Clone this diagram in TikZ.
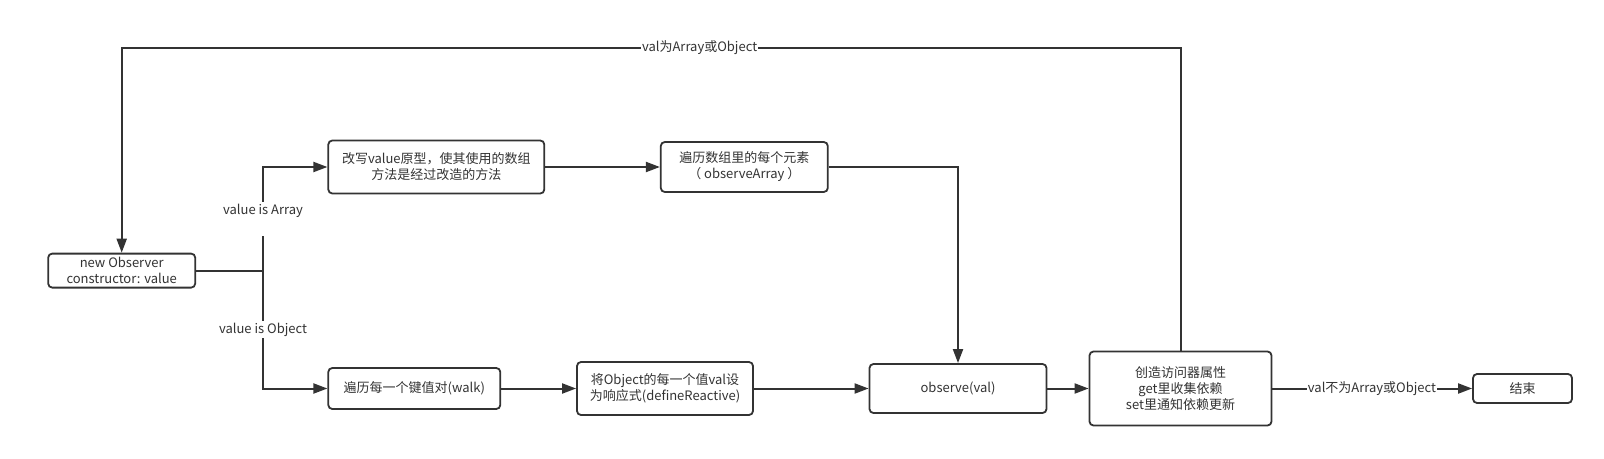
\documentclass[tikz,border=0pt]{standalone}
\usepackage{fontspec}
\setmainfont{Noto Sans CJK SC}
\usetikzlibrary{arrows.meta, positioning}
\definecolor{ink}{HTML}{333333}

\begin{document}
\begin{tikzpicture}[
    x=1pt, y=-1pt,
    every node/.style={font=\fontsize{13}{16}\selectfont, text=ink},
    box/.style={rectangle, rounded corners=4pt, draw=ink, line width=1.8pt,
                fill=white, align=center, inner sep=0pt},
    lbl/.style={fill=white, inner xsep=1pt, inner ysep=2pt},
    wire/.style={draw=ink, line width=2pt},
    flow/.style={wire, -{Triangle[length=14pt, width=10pt]}},
]
\useasboundingbox (0,0) rectangle (1604,458);

% ================================================ boxes
\node[box, minimum width=147pt, minimum height=34pt] (obs) at (121.7, 270.6)
    {new Observer\\constructor: value};
\node[box, minimum width=216pt, minimum height=53pt] (proto) at (436.3, 167)
    {改写value原型，使其使用的数组\\方法是经过改造的方法};
\node[box, minimum width=167pt, minimum height=50pt] (arr) at (744.3, 167)
    {遍历数组里的每个元素\\（ observeArray ）};
\node[box, minimum width=172pt, minimum height=41pt] (walk) at (414.3, 388.5)
    {遍历每一个键值对(walk)};
\node[box, minimum width=176pt, minimum height=53pt] (react) at (665, 388.5)
    {将Object的每一个值val设\\为响应式(defineReactive)};
\node[box, minimum width=177pt, minimum height=49pt] (observe) at (958, 388.5)
    {observe(val)};
\node[box, minimum width=182pt, minimum height=74pt] (access) at (1180.5, 388.5)
    {创造访问器属性\\get里收集依赖\\set里通知依赖更新};
\node[box, minimum width=99pt, minimum height=29pt] (done) at (1522.5, 388.5)
    {结束};

% ================================================ value type split
\coordinate (split) at (263, 270.6);
\draw[wire] (obs) -- (split);
\draw[flow] (split) |- (proto);
\draw[flow] (split) |- (walk);

% ================================================ main chain
\foreach \a/\b in {proto/arr, walk/react, react/observe, observe/access, access/done}{
    \draw[flow] (\a) -- (\b);
}
\draw[flow] (arr) -| (observe);

% back to the start
\coordinate (back) at (121.7, 48);
\draw[flow] (access) |- (back) -- (obs);

% ================================================ edge labels
\node[lbl, anchor=north, text depth=19pt] (isarr) at (263, 202) {value is Array};
\node[lbl] (isobj) at (263, 329.4) {value is Object};
\node[lbl] (isval) at (699.6, 48) {val为Array或Object};
\node[lbl] (notval) at (1372, 388.5) {val不为Array或Object};

\end{tikzpicture}
\end{document}
